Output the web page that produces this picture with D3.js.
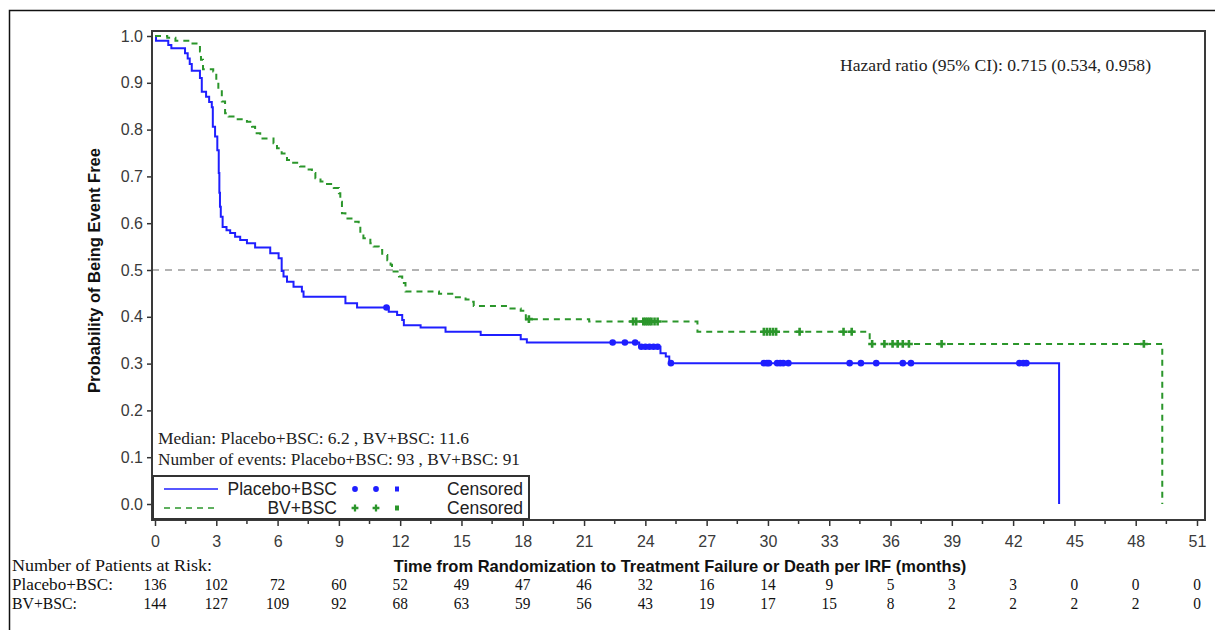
<!DOCTYPE html>
<html>
<head>
<meta charset="utf-8">
<script src="https://cdn.jsdelivr.net/npm/d3@7"></script>
<style>
  body { margin: 0; background: #fff; }
  svg { display: block; }
</style>
</head>
<body>
<svg id="chart" width="1215" height="630"></svg>
<script>
// Kaplan-Meier step points: time (months) where survival drops to the given value
const placeboTime = [0, 0.05, 0.65, 0.8, 1.47, 1.6, 1.7, 1.8, 2.2, 2.29, 2.5, 2.65, 2.78, 2.83, 2.94, 3.05, 3.12, 3.15, 3.18, 3.22, 3.31, 3.5, 3.68, 3.92, 4.17, 4.5, 4.9, 5.64, 6.05, 6.2, 6.29, 6.46, 6.78, 7.19, 7.27, 9.32, 9.89, 11.44, 11.85, 12.1, 12.18, 13.0, 14.22, 15.94, 17.9, 18.2, 23.7, 24.74, 25.0, 25.17, 44.25];
const placeboSurv = [1.0, 0.99, 0.981, 0.974, 0.963, 0.952, 0.94, 0.926, 0.91, 0.881, 0.87, 0.859, 0.848, 0.806, 0.785, 0.756, 0.707, 0.665, 0.635, 0.614, 0.592, 0.585, 0.579, 0.571, 0.564, 0.557, 0.548, 0.536, 0.525, 0.498, 0.486, 0.475, 0.464, 0.454, 0.443, 0.429, 0.42, 0.411, 0.404, 0.393, 0.382, 0.377, 0.368, 0.361, 0.352, 0.345, 0.336, 0.322, 0.315, 0.301, 0];
const placeboCensor = [11.33, 22.4, 23.0, 23.5, 23.8, 24.0, 24.2, 24.4, 24.6, 25.25, 29.8, 29.95, 30.05, 30.45, 30.6, 30.75, 31.0, 34.0, 34.55, 35.3, 36.6, 37.0, 42.3, 42.5, 42.65];

const bvTime = [0, 0.6, 1.0, 1.63, 2.2, 2.25, 2.35, 2.85, 3.0, 3.1, 3.27, 3.43, 3.6, 3.92, 4.5, 4.75, 4.9, 5.15, 5.8, 5.97, 6.2, 6.46, 6.7, 7.1, 7.44, 7.68, 7.85, 8.1, 8.42, 8.75, 9.0, 9.07, 9.15, 9.32, 9.73, 9.97, 10.05, 10.2, 10.54, 10.7, 10.95, 11.12, 11.37, 11.53, 11.6, 11.94, 12.1, 12.26, 13.9, 14.55, 15.2, 15.45, 15.6, 17.4, 17.9, 18.15, 21.25, 26.55, 34.98, 49.3];
const bvSurv = [1.0, 0.996, 0.99, 0.984, 0.967, 0.949, 0.929, 0.924, 0.902, 0.885, 0.86, 0.835, 0.828, 0.822, 0.817, 0.806, 0.792, 0.781, 0.771, 0.76, 0.749, 0.735, 0.729, 0.721, 0.715, 0.707, 0.696, 0.689, 0.684, 0.675, 0.664, 0.646, 0.621, 0.61, 0.603, 0.593, 0.578, 0.568, 0.557, 0.55, 0.543, 0.532, 0.521, 0.511, 0.497, 0.486, 0.472, 0.454, 0.449, 0.442, 0.437, 0.432, 0.423, 0.418, 0.413, 0.395, 0.39, 0.368, 0.342, 0];
const bvCensor = [18.3, 23.4, 23.55, 23.9, 24.0, 24.1, 24.2, 24.3, 24.45, 24.6, 29.8, 29.95, 30.1, 30.25, 30.4, 31.55, 33.7, 34.1, 35.1, 35.7, 36.1, 36.35, 36.6, 36.9, 38.5, 48.4];

const xTicks = d3.range(0, 52, 3);
const yTicks = [0, 0.1, 0.2, 0.3, 0.4, 0.5, 0.6, 0.7, 0.8, 0.9, 1.0];
const riskPlacebo = [136, 102, 72, 60, 52, 49, 47, 46, 32, 16, 14, 9, 5, 3, 3, 0, 0, 0];
const riskBV = [144, 127, 109, 92, 68, 63, 59, 56, 43, 19, 17, 15, 8, 2, 2, 2, 2, 0];

const BLUE = "#1f1fff";
const GREEN = "#2b962b";
const SANS = "'Liberation Sans', Arial, sans-serif";
const SERIF = "'Liberation Serif', 'Times New Roman', serif";

const svg = d3.select("#chart");

// outer figure border (open on right and bottom)
svg.append("path")
  .attr("d", "M9.5,640 V10.5 H1225")
  .attr("fill", "none").attr("stroke", "#111").attr("stroke-width", 1.5);

const frame = { left: 152, top: 31, right: 1205, bottom: 520 };
const x = d3.scaleLinear().domain([0, 51]).range([155, 1197]);
const y = d3.scaleLinear().domain([0, 1]).range([504, 36]);

// reference line at median
svg.append("line")
  .attr("x1", frame.left).attr("x2", frame.right)
  .attr("y1", y(0.5)).attr("y2", y(0.5))
  .attr("stroke", "#9a9a9a").attr("stroke-width", 1.5).attr("stroke-dasharray", "7,6");

// y axis
const yAxis = svg.append("g")
  .attr("transform", `translate(${frame.left},0)`)
  .call(d3.axisLeft(y).tickValues(yTicks).tickFormat(d3.format(".1f")).tickSize(5).tickPadding(4));
yAxis.select(".domain").remove();
yAxis.selectAll("line").attr("stroke", "#333").attr("stroke-width", 1.5);
yAxis.selectAll("text").attr("font-family", SANS).attr("font-size", 16).attr("fill", "#3a3a3a");

// x axis with minor ticks
const xAxis = svg.append("g")
  .attr("transform", `translate(0,${frame.bottom})`)
  .call(d3.axisBottom(x).tickValues(xTicks).tickSize(6).tickPadding(10));
xAxis.select(".domain").remove();
xAxis.selectAll("line").attr("stroke", "#333").attr("stroke-width", 1.5);
xAxis.selectAll("text").attr("font-family", SANS).attr("font-size", 16).attr("fill", "#3a3a3a");
svg.append("g").selectAll("line")
  .data(xTicks.slice(0, -1).map(d => d + 1.5))
  .join("line")
  .attr("x1", d => x(d)).attr("x2", d => x(d))
  .attr("y1", frame.bottom).attr("y2", frame.bottom + 4)
  .attr("stroke", "#333").attr("stroke-width", 1.5);

// plot frame
svg.append("rect")
  .attr("x", frame.left).attr("y", frame.top)
  .attr("width", frame.right - frame.left).attr("height", frame.bottom - frame.top)
  .attr("fill", "none").attr("stroke", "#3a3a3a").attr("stroke-width", 2);

// axis titles
svg.append("text")
  .attr("transform", `translate(100,${(frame.top + frame.bottom) / 2 - 5}) rotate(-90)`)
  .attr("text-anchor", "middle")
  .attr("font-family", SANS).attr("font-weight", "bold").attr("font-size", 16.5)
  .attr("fill", "#111")
  .text("Probability of Being Event Free");
svg.append("text")
  .attr("x", 680).attr("y", 572)
  .attr("text-anchor", "middle")
  .attr("font-family", SANS).attr("font-weight", "bold").attr("font-size", 16.5)
  .attr("fill", "#111")
  .text("Time from Randomization to Treatment Failure or Death per IRF (months)");

// survival curves
const stepLine = d3.line().x(d => x(d[0])).y(d => y(d[1])).curve(d3.curveStepAfter);
const pts = (t, s) => t.map((d, i) => [d, s[i]]);
const survAt = (t, s, v) => s[d3.bisectRight(t, v) - 1];

svg.append("path")
  .attr("d", stepLine(pts(placeboTime, placeboSurv)))
  .attr("fill", "none").attr("stroke", BLUE).attr("stroke-width", 2);
svg.append("path")
  .attr("d", stepLine(pts(bvTime, bvSurv)))
  .attr("fill", "none").attr("stroke", GREEN).attr("stroke-width", 2)
  .attr("stroke-dasharray", "6,5");

// censor marks
svg.append("g").selectAll("path")
  .data(placeboCensor).join("path")
  .attr("transform", d => `translate(${x(d)},${y(survAt(placeboTime, placeboSurv, d))})`)
  .attr("d", d3.symbol(d3.symbolCircle, 34))
  .attr("fill", BLUE);
svg.append("g").selectAll("path")
  .data(bvCensor).join("path")
  .attr("transform", d => `translate(${x(d)},${y(survAt(bvTime, bvSurv, d))})`)
  .attr("d", d3.symbol(d3.symbolCross, 34))
  .attr("fill", GREEN);

// annotations
const note = (tx, ty, len, str) => svg.append("text")
  .attr("x", tx).attr("y", ty)
  .attr("font-family", SERIF).attr("font-size", 17).attr("fill", "#222")
  .attr("textLength", len).attr("lengthAdjust", "spacingAndGlyphs")
  .text(str);
note(840, 71, 311, "Hazard ratio (95% CI): 0.715 (0.534, 0.958)");
note(158, 444, 311, "Median: Placebo+BSC: 6.2 , BV+BSC: 11.6");
note(158, 465, 362, "Number of events: Placebo+BSC: 93 , BV+BSC: 91");

// legend
const legend = svg.append("g");
legend.append("rect")
  .attr("x", 153).attr("y", 476).attr("width", 376).attr("height", 43)
  .attr("fill", "#fff").attr("stroke", "#333").attr("stroke-width", 2);
const legendRows = [
  { name: "Placebo+BSC", color: BLUE, dash: null, sym: d3.symbolCircle, y: 489 },
  { name: "BV+BSC", color: GREEN, dash: "6,5", sym: d3.symbolCross, y: 508 }
];
legendRows.forEach(r => {
  legend.append("line")
    .attr("x1", 164).attr("x2", 218).attr("y1", r.y).attr("y2", r.y)
    .attr("stroke", r.color).attr("stroke-width", 1.5)
    .attr("stroke-dasharray", r.dash);
  legend.append("text")
    .attr("x", 337).attr("y", r.y + 6).attr("text-anchor", "end")
    .attr("font-family", SANS).attr("font-size", 17.5).attr("fill", "#222")
    .text(r.name);
  [355, 376].forEach(mx => legend.append("path")
    .attr("transform", `translate(${mx},${r.y})`)
    .attr("d", d3.symbol(r.sym, 26)).attr("fill", r.color));
  legend.append("rect")
    .attr("x", 395).attr("y", r.y - 2.5).attr("width", 4).attr("height", 5)
    .attr("fill", r.color);
  legend.append("text")
    .attr("x", 523).attr("y", r.y + 6).attr("text-anchor", "end")
    .attr("font-family", SANS).attr("font-size", 17.5).attr("fill", "#222")
    .text("Censored");
});

// number at risk table
const risk = svg.append("g").attr("font-family", SERIF).attr("font-size", 17.5).attr("fill", "#111");
const rowLabel = (ty, len, str) => risk.append("text")
  .attr("x", 12).attr("y", ty)
  .attr("textLength", len).attr("lengthAdjust", "spacingAndGlyphs")
  .text(str);
rowLabel(571, 200, "Number of Patients at Risk:");
rowLabel(590, 101, "Placebo+BSC:");
rowLabel(609, 65, "BV+BSC:");
const riskRow = (vals, ty) => risk.append("g").selectAll("text").data(vals).join("text")
  .attr("transform", (d, i) => `translate(${x(xTicks[i])},${ty}) scale(0.88,1)`)
  .attr("text-anchor", "middle")
  .text(d => d);
riskRow(riskPlacebo, 590);
riskRow(riskBV, 609);
</script>
</body>
</html>
